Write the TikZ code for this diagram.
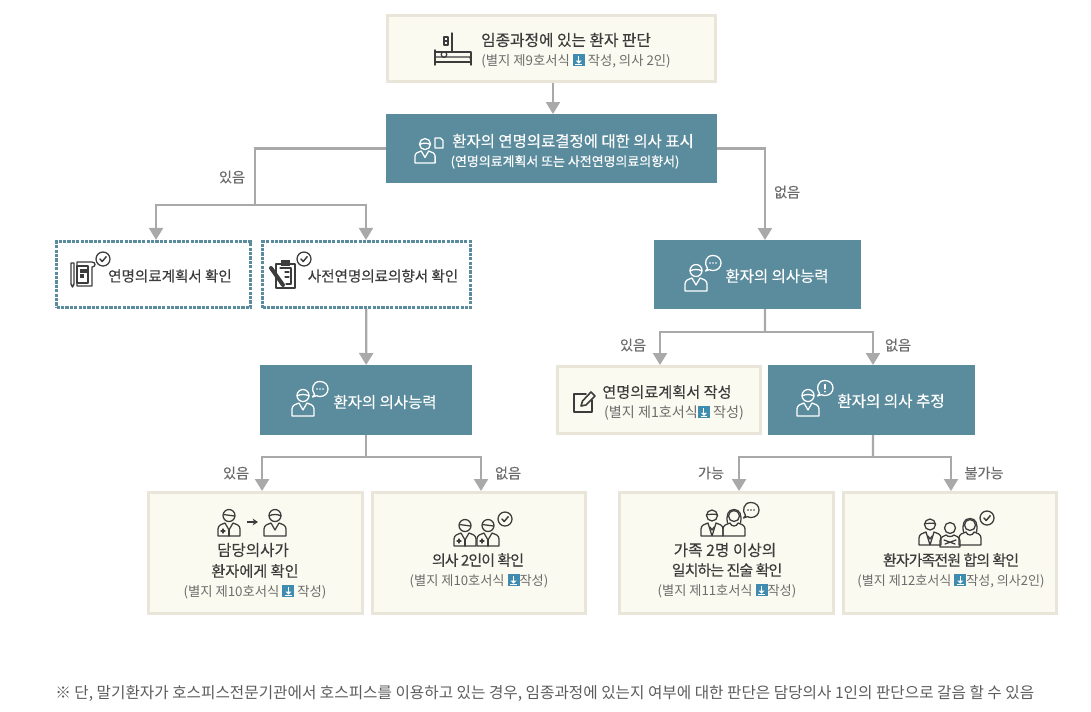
\documentclass[tikz,border=0pt]{standalone}
\usepackage{fontspec}
\setmainfont{Noto Sans CJK KR}
\newfontfamily\medfont[FakeBold=0.35]{Noto Sans CJK KR}
\newfontfamily\tightfont[FakeBold=0.35,LetterSpace=-6]{Noto Sans CJK KR}
\usetikzlibrary{arrows.meta}
\definecolor{teal}{HTML}{5B8C9D}
\definecolor{cream}{HTML}{FBFAF0}
\definecolor{creamline}{HTML}{E9E5D9}
\definecolor{conn}{HTML}{A9A9A9}
\definecolor{ink}{HTML}{3C3C3C}
\definecolor{subink}{HTML}{6C6C6C}
\definecolor{dlblue}{HTML}{3F8CB0}
\newcommand\dlicon{\tikz[baseline=0.2pt,x=1pt,y=1pt]{\fill[dlblue](0,-0.5) rectangle (9,8.5);\draw[white,line width=.8pt](4.5,7)--(4.5,3);\fill[white](2.3,3.6)--(6.7,3.6)--(4.5,1.4)--cycle;\draw[white,line width=.7pt](2,0.9)--(7,0.9);}}
\tikzset{
  sz/.style 2 args={minimum width=#1*0.75pt,minimum height=#2*0.75pt},
  basebox/.style={inner sep=0pt,outer sep=0pt,rectangle},
  creambox/.style={basebox,fill=cream,draw=creamline,line width=2.6pt,outer sep=1.3pt},
  tealbox/.style={basebox,fill=teal},
  dotbox/.style={basebox,fill=white,draw=teal,line width=2.4pt,dash pattern=on 2.4pt off 0.9pt,outer sep=1.2pt},
  link/.style={draw=conn,line width=1.7pt},
  flow/.style={link,-{Triangle[width=10.5pt,length=9pt]}},
  lab/.style={inner sep=0pt,text=subink,font=\fontsize{10.6pt}{12pt}\selectfont\medfont},
  head/.style={inner sep=0pt,align=center,text=ink,font=\fontsize{#1pt}{13pt}\selectfont\medfont},
  tighthead/.style={inner sep=0pt,align=center,text=ink,font=\fontsize{#1pt}{13pt}\selectfont\tightfont},
  whitehead/.style={inner sep=0pt,align=center,text=white,font=\fontsize{#1pt}{13pt}\selectfont\medfont},
  subnote/.style={inner sep=0pt,align=center,text=subink,font=\fontsize{#1pt}{12pt}\selectfont},
  icon/.style={line width=.95pt,line join=round,line cap=round,fill=none},
  solid/.style={draw=none},
  pics/doctor/.style={code={
    \draw[pic actions,icon](0,-7.5) circle (6);
    \draw[pic actions,icon](-5.6,-8.5)--(5.6,-7);
    \draw[pic actions,icon](-11,13)--(-11,6) .. controls (-11,2) and (-7,1) .. (-4,0)--(0,7)--(4,0) .. controls (7,1) and (11,2) .. (11,6)--(11,13)--cycle;
    \draw[pic actions,icon](0,7)--(0,13);
    \draw[pic actions,icon](-8,8)--(-4,8)(-6,6)--(-6,10);
  }},
  pics/patient/.style={code={
    \draw[pic actions,icon](0,-7.5) circle (6);
    \draw[pic actions,icon](-6,-7) .. controls (-3,-9) and (3,-9) .. (6,-7);
    \draw[pic actions,icon](-11,13)--(-11,6) .. controls (-11,2) and (-7,1) .. (-4,0)--(0,7)--(4,0) .. controls (7,1) and (11,2) .. (11,6)--(11,13)--cycle;
  }},
  pics/man/.style={code={
    \draw[pic actions,icon](0,-7.5) circle (5.5);
    \draw[pic actions,icon](-5.5,-8.5) .. controls (-2,-8) and (2,-10) .. (5.5,-8);
    \draw[pic actions,icon](-11,13)--(-11,6) .. controls (-11,2) and (-7,1) .. (-4,0)--(0,13)--(4,0) .. controls (7,1) and (11,2) .. (11,6)--(11,13)--cycle;
    \draw[pic actions,icon](-2,4)--(0,7)--(2,4);
  }},
  pics/woman/.style={code={
    \draw[pic actions,icon](0,-7) circle (5.5);
    \draw[pic actions,icon](-6.5,0) .. controls (-8,-8) and (-6,-13.5) .. (0,-13.5) .. controls (6,-13.5) and (8,-8) .. (6.5,0);
    \draw[pic actions,icon](-11,13)--(-11,6) .. controls (-11,2) and (-7,1) .. (-4,0) .. controls (-3,4) and (3,4) .. (4,0) .. controls (7,1) and (11,2) .. (11,6)--(11,13)--cycle;
  }},
  pics/elder/.style={code={
    \draw[pic actions,icon](0,-6) circle (5.5);
    \draw[pic actions,icon](-10,13)--(-10,7) .. controls (-10,3) and (-6,2) .. (-4,1) .. controls (-2,3) and (2,3) .. (4,1) .. controls (6,2) and (10,3) .. (10,7)--(10,13)--cycle;
    \draw[pic actions,icon](-6,6)--(5,10)(6,6)--(-5,10);
  }},
  pics/checkmark/.style={code={
    \draw[pic actions,icon](0,0) circle (7);
    \draw[pic actions,icon,line width=1.1pt](-3,0)--(-0.8,2.5)--(3.2,-2.3);
  }},
  pics/bubble/.style={code={
    \draw[pic actions,icon](-5.5,5.5) .. controls (-9,1) and (-8,-7.5) .. (0,-7.5) .. controls (5,-7.5) and (8,-4) .. (8,0) .. controls (8,4) and (5,7.5) .. (0,7.5) .. controls (-1.5,7.5) and (-3,7) .. (-3.5,6.6) -- (-7.5,8) -- cycle;
    \fill[pic actions,solid](-3,0) circle (.9)(0,0) circle (.9)(3,0) circle (.9);
  }},
  pics/alert/.style={code={
    \draw[pic actions,icon](-5.5,5.5) .. controls (-9,1) and (-8,-7.5) .. (0,-7.5) .. controls (5,-7.5) and (8,-4) .. (8,0) .. controls (8,4) and (5,7.5) .. (0,7.5) .. controls (-1.5,7.5) and (-3,7) .. (-3.5,6.6) -- (-7.5,8) -- cycle;
    \draw[pic actions,icon,line width=1.1pt](0,-3.5)--(0,1)(0,3.6)--(0,3.8);
  }},
  pics/sheet/.style={code={
    \draw[pic actions,icon](-4,-5)--(1.5,-5)--(4,-2.5)--(4,5)--(-4,5)--cycle;
  }},
  pics/bed/.style={code={
    \draw[pic actions,icon,line width=1.1pt](-18,1)--(-18,16)(18,7)--(18,16)(-18,13)--(18,13);
    \draw[pic actions,icon,line width=1.1pt](-18,8)--(17,8)--(18,12);
    \draw[pic actions,icon,line width=1.1pt](-18,3)--(18,3)--(18,7);
    \draw[pic actions,icon](-9,5.5) circle (2.8);
    \draw[pic actions,icon,line width=1.1pt](-1,-16)--(-1,3);
    \draw[pic actions,icon](-9,-12) rectangle (-5,-4);
    \draw[pic actions,icon](-9,-8)--(-5,-8);
  }},
  pics/scroll/.style={code={
    \draw[pic actions,icon,line width=1.1pt](-12,-11)--(-12,10)--(-10.5,13)--(-9,10)--(-9,-11)--cycle;
    \draw[pic actions,icon](-6,-12)--(9,-12) .. controls (13,-12) and (13,-7) .. (9,-7)--(9,12)--(-6,12)--cycle;
    \draw[pic actions,icon](-6,-8) rectangle (5,9);
    \fill[pic actions,solid](-3,-5) rectangle (4,-1);
    \fill[pic actions,solid](-3,0) rectangle (1,4);
  }},
  pics/clipboard/.style={code={
    \draw[pic actions,icon,line width=1.4pt](-6,-10) rectangle (13,14);
    \fill[pic actions,solid](-1,-14) rectangle (8,-8);
    \draw[pic actions,icon](-2,-6)--(9,-6)--(9,10)--(4,10)(3,-2)--(7,-2)(3,3)--(7,3);
    \draw[pic actions,icon,line width=3pt](-11,-6)--(1,11);
  }},
  pics/pencil/.style={code={
    \draw[pic actions,icon,line width=1.4pt](2,-8)--(-10,-8)--(-10,10)--(8,10)--(8,-2);
    \draw[pic actions,icon,line width=1.2pt](-3,4)--(-1.5,-1)--(7,-10)--(11,-6)--(2,3)--cycle;
  }},
}
\begin{document}
\begin{tikzpicture}[x=0.75pt,y=-0.75pt]
\useasboundingbox (0,0) rectangle (1091,711);
% boxes
\node[creambox,sz={327.5}{65.5}] (top) at (551.5,48.5) {};
\node[tealbox,sz={331}{69}] (mid) at (551.5,148.5) {};
\node[dotbox,sz={194}{66}] (plan) at (153.5,274.5) {};
\node[dotbox,sz={208}{66}] (adv) at (366.5,274.5) {};
\node[tealbox,sz={207}{69}] (capR) at (757.5,274.5) {};
\node[tealbox,sz={212}{70}] (capL) at (366,400) {};
\node[creambox,sz={202.5}{66.5}] (write) at (659,400) {};
\node[tealbox,sz={207}{70}] (est) at (871.5,400) {};
\node[creambox,sz={213.5}{120.5}] (b1) at (255.5,553) {};
\node[creambox,sz={212.5}{120.5}] (b2) at (479,553) {};
\node[creambox,sz={213.5}{120.5}] (b3) at (726.5,553) {};
\node[creambox,sz={212.5}{120.5}] (b4) at (950,553) {};
% junctions
\coordinate (jA) at (255,205);
\coordinate (jB) at (366,457);
\coordinate (jC) at (765,332);
\coordinate (jD) at (873,457);
% connectors
\draw[flow] ([xshift=1.1pt]top.south) -- ([xshift=1.1pt]mid.north);
\draw[link] (mid.west) -| (jA);
\draw[flow] (jA) -| ([xshift=1.9pt]plan.north);
\draw[flow] (jA) -| ([xshift=-0.4pt]adv.north);
\draw[flow] (mid.east) -| ([xshift=5.6pt]capR.north);
\draw[flow] (adv) -- (capL);
\draw[link] (capL) -- (jB);
\draw[flow] (jB) -| ([xshift=4.9pt]b1.north);
\draw[flow] (jB) -| ([xshift=1.5pt]b2.north);
\draw[link] ([xshift=5.6pt]capR.south) -- (jC);
\draw[flow] (jC) -| ([xshift=0.75pt]write.north);
\draw[flow] (jC) -| ([xshift=1.1pt]est.north);
\draw[link] ([xshift=1.1pt]est.south) -- (jD);
\draw[flow] (jD) -| ([xshift=9.4pt]b3.north);
\draw[flow] (jD) -| ([xshift=0.75pt]b4.north);
% connector labels
\node[lab] (l1) at (232,177) {있음};
\node[lab] (l2) at (787,192) {없음};
\node[lab] (l3) at (236,473) {있음};
\node[lab] (l4) at (508,473) {없음};
\node[lab] (l5) at (633,345) {있음};
\node[lab] (l6) at (898,345) {없음};
\node[lab] (l7) at (711,473) {가능};
\node[lab] (l8) at (984,473) {불가능};
% texts
\node[head=11.8] (t1) at (566,40) {임종과정에 있는 환자 판단};
\node[subnote=10] (t1s) at (576,61) {(별지 제9호서식 \dlicon{} 작성, 의사 2인)};
\node[whitehead=11.6] (t2) at (573,141) {환자의 연명의료결정에 대한 의사 표시};
\node[whitehead=9.7] (t2s) at (565,162) {(연명의료계획서 또는 사전연명의료의향서)};
\node[head=10.9] (t3) at (170,276) {연명의료계획서 확인};
\node[head=10.9] (t4) at (383,276) {사전연명의료의향서 확인};
\node[whitehead=11.6] (t5) at (385,402) {환자의 의사능력};
\node[whitehead=11.6] (t6) at (777,276) {환자의 의사능력};
\node[whitehead=11.7] (t7) at (891,401) {환자의 의사 추정};
\node[head=11.4] (t8) at (667,392) {연명의료계획서 작성};
\node[subnote=10.6] (t8s) at (674,413) {(별지 제1호서식\dlicon{} 작성)};
\node[head=11.7] (t9a) at (253,550) {담당의사가};
\node[head=11.4] (t9b) at (255,571) {환자에게 확인};
\node[subnote=10] (t9s) at (255,592) {(별지 제10호서식 \dlicon{} 작성)};
\node[tighthead=11.2] (t10) at (478,560) {의사 2인이 확인};
\node[subnote=9.9] (t10s) at (479,581) {(별지 제10호서식 \dlicon{}작성)};
\node[head=11.8] (t11a) at (725,550) {가족 2명 이상의};
\node[tighthead=11.2] (t11b) at (727,570) {일치하는 진술 확인};
\node[subnote=9.9] (t11s) at (727,591) {(별지 제11호서식 \dlicon{}작성)};
\node[tighthead=11.2] (t12) at (951,560) {환자가족전원 합의 확인};
\node[subnote=9.8] (t12s) at (951,581) {(별지 제12호서식 \dlicon{}작성, 의사2인)};
\node[anchor=west,inner sep=0pt,text=subink!85!black,font=\fontsize{11.75pt}{13pt}\selectfont] (foot) at (55,693) {※ 단, 말기환자가 호스피스전문기관에서 호스피스를 이용하고 있는 경우, 임종과정에 있는지 여부에 대한 판단은 담당의사 1인의 판단으로 갈음 할 수 있음};
% icons
\pic[draw=ink] at (453,49) {bed};
\pic[draw=white,scale=.92] at (425,151) {patient};
\pic[draw=white] at (439,143) {sheet};
\pic[draw=ink,fill=ink] at (83,274) {scroll};
\pic[draw=ink] at (103,259) {checkmark};
\pic[draw=ink,fill=ink] at (282,274) {clipboard};
\pic[draw=ink] at (304,259) {checkmark};
\pic[draw=white] at (303,403) {patient};
\pic[draw=white,fill=white] at (320,389) {bubble};
\pic[draw=white] at (696,278) {patient};
\pic[draw=white,fill=white] at (713,263) {bubble};
\pic[draw=white] at (808,403) {patient};
\pic[draw=white] at (825,388) {alert};
\pic[draw=ink] at (584,402) {pencil};
\pic[draw=ink] at (229,523) {doctor};
\pic[draw=ink] at (275,523) {patient};
\draw[ink,line width=1pt,-{Stealth[length=4pt,width=5pt]}] (247,522) -- (258,522);
\pic[draw=ink] at (465,533) {doctor};
\pic[draw=ink] at (488,533) {doctor};
\pic[draw=ink] at (505,519) {checkmark};
\pic[draw=ink] at (712,523) {man};
\pic[draw=ink] at (734,523) {woman};
\pic[draw=ink,fill=ink] at (751,510) {bubble};
\pic[draw=ink] at (930,532) {man};
\pic[draw=ink] at (950,534) {elder};
\pic[draw=ink] at (970,532) {woman};
\pic[draw=ink] at (987,518) {checkmark};
\end{tikzpicture}
\end{document}
